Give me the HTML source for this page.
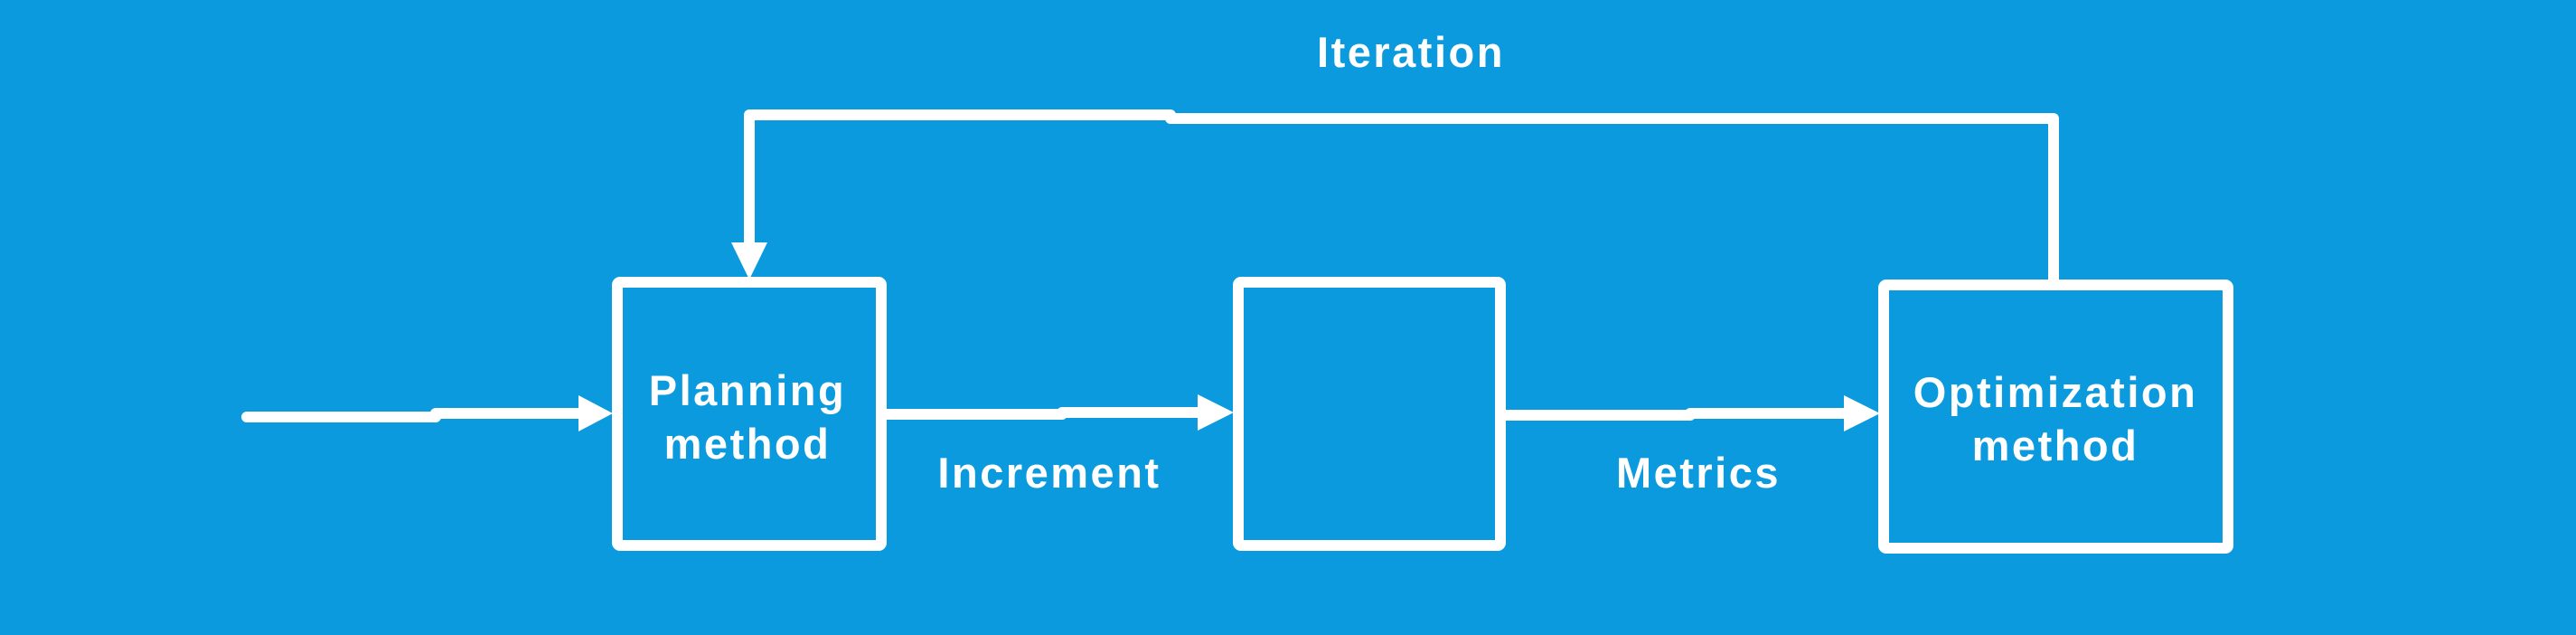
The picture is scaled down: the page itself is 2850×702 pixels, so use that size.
<!DOCTYPE html>
<html><head><meta charset="utf-8"><style>
html,body{margin:0;padding:0;background:#0b9add;}
svg{display:block}
text{font-family:"Liberation Sans",sans-serif;font-weight:bold;fill:#fff;font-size:47px;text-anchor:middle;letter-spacing:2.5px;}
</style></head><body>
<svg width="2850" height="702" viewBox="0 0 2850 702" xmlns="http://www.w3.org/2000/svg">
<rect width="2850" height="702" fill="#0b9add"/>
<g fill="none" stroke="#fff" stroke-width="12" stroke-linejoin="round" stroke-linecap="round">
<rect x="683" y="312" width="292" height="291" rx="3"/>
<rect x="1370" y="312" width="290" height="291" rx="3"/>
<rect x="2084" y="315" width="381" height="291" rx="3"/>
<polyline points="273,461 482,461 482,457 645,457"/>
<polyline points="978,458 1175,458 1175,456 1330,456"/>
<polyline points="1663,459 1870,459 1870,457 2045,457"/>
<polyline points="2272,309 2272,131 1295,131 1295,127 829,127 829,275"/>
</g>
<g fill="#fff">
<polygon points="640,437 678,457 640,477"/>
<polygon points="1325,436 1365,456 1325,476"/>
<polygon points="2040,437 2080,457 2040,477"/>
<polygon points="809,268 849,268 829,309"/>
</g>
<text x="1561" y="74">Iteration</text>
<text x="1161" y="539">Increment</text>
<text x="1879" y="539">Metrics</text>
<text x="827" y="448">Planning</text>
<text x="827" y="507">method</text>
<text x="2274" y="450">Optimization</text>
<text x="2274" y="509">method</text>
</svg>
</body></html>
